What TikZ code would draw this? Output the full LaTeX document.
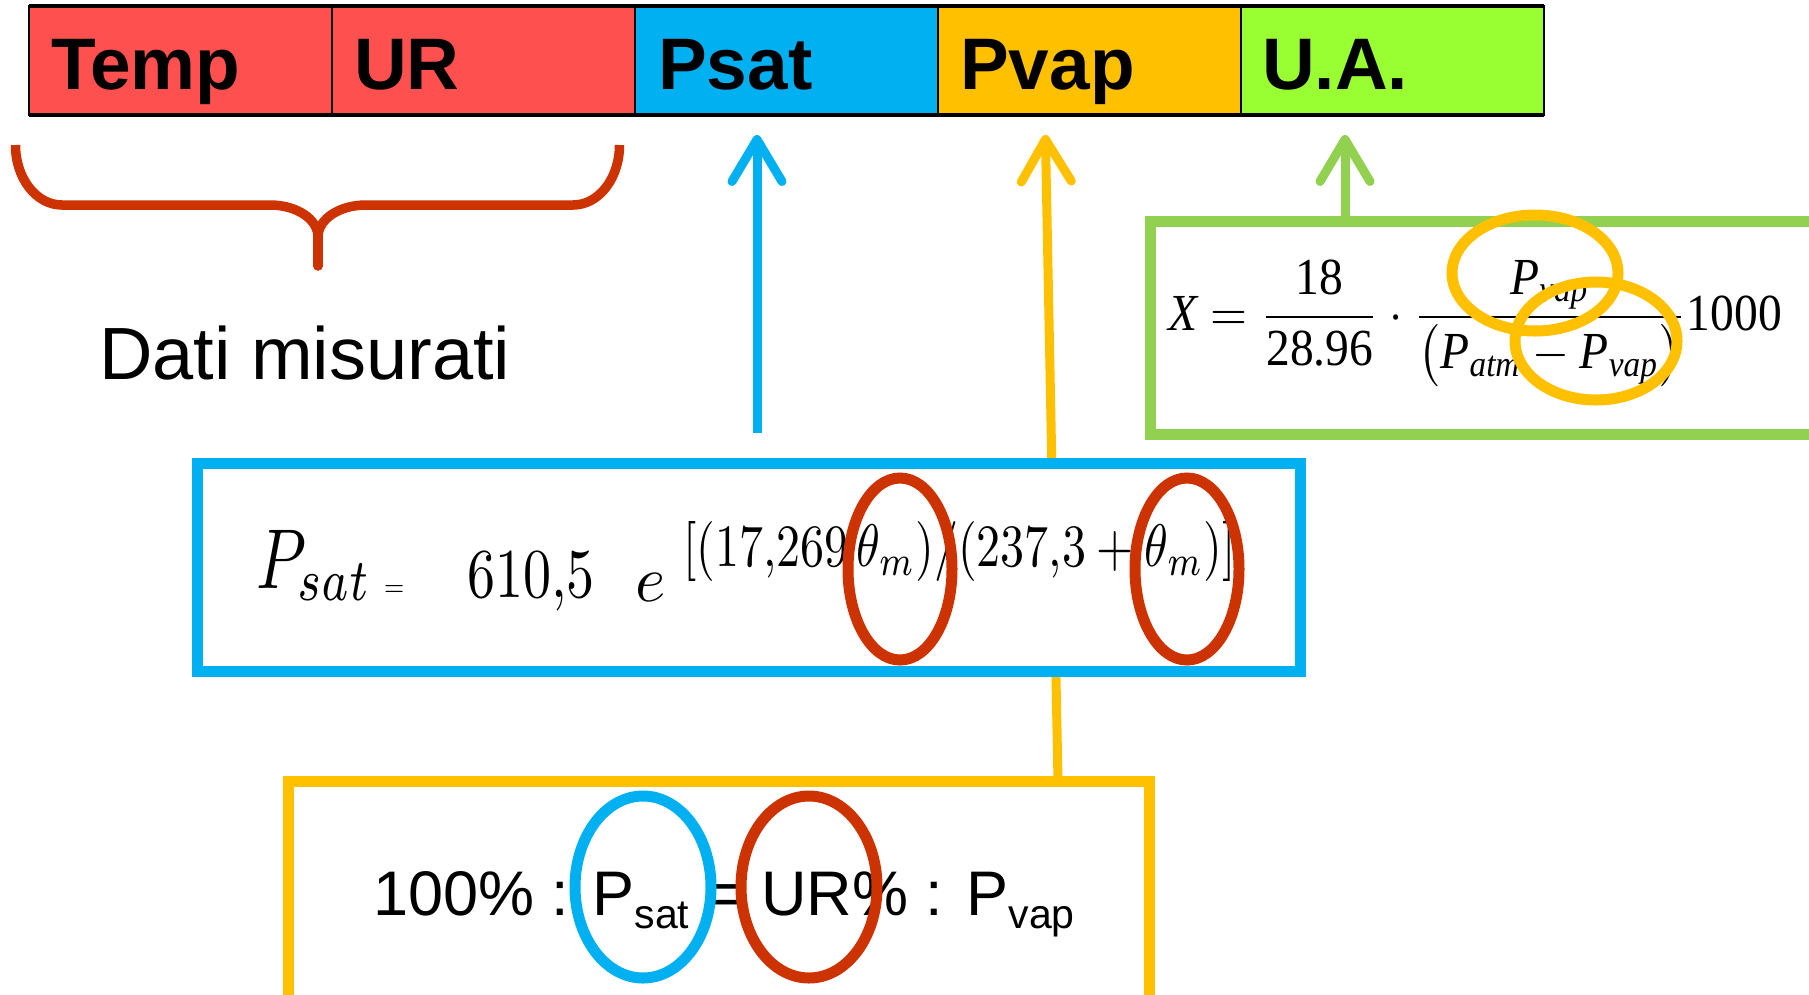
\documentclass[tikz,border=0pt]{standalone}
\usepackage{fontspec}
\usepackage{amsmath}
\usepackage{graphicx}
\setmainfont{Liberation Sans}
\newfontfamily\tms{Liberation Serif}
\usetikzlibrary{arrows.meta}
\definecolor{cred}{HTML}{FF5050}
\definecolor{cblue}{HTML}{00B0F0}
\definecolor{corange}{HTML}{FFC000}
\definecolor{clime}{HTML}{99FF33}
\definecolor{cbrick}{HTML}{CC3300}
\definecolor{cgreen}{HTML}{92D050}
\begin{document}
\begin{tikzpicture}[x=1pt,y=1pt,
  cell/.style={draw=black, line width=2pt, minimum width=303pt, minimum height=109pt, anchor=north west, inner sep=0pt, outer sep=0pt},
  celltext/.style={font=\fontsize{73}{80}\selectfont\bfseries, anchor=base west, inner sep=0pt},
  txt/.style={anchor=base west, inner sep=0pt},
  box/.style={line width=11pt, fill=white, inner sep=0pt, outer sep=0pt, anchor=north west},
  ring/.style={line width=11pt},
  brace/.style={draw=cbrick, line width=9.5pt},
  arw/.style={line width=9pt, -{Straight Barb[length=42pt,width=50pt,round]}},
]
\useasboundingbox (0,0) rectangle (1809,-994);
\clip (0,0) rectangle (1809,-994);

% top bar
\node[cell, fill=cred] (ctemp) at (29,-6) {};
\node[cell, fill=cred] (cur) at (332,-6) {};
\node[cell, fill=cblue] (cpsat) at (635,-6) {};
\node[cell, fill=corange] (cpvap) at (938,-6) {};
\node[cell, fill=clime] (cua) at (1241,-6) {};
\draw[line width=3.5pt] (ctemp.north west) -- (cua.north east);
\draw[line width=3.5pt] (ctemp.south west) -- (cua.south east);
\node[celltext] (ttemp) at (51,-89) {Temp};
\node[celltext] (tur) at (354,-89) {UR};
\node[celltext] (tpsat) at (658,-89) {Psat};
\node[celltext] (tpvap) at (960,-89) {Pvap};
\node[celltext] (tua) at (1262,-89) {U.A.};

% brace
\draw[brace] (15.5,-145) .. controls (15.5,-178) and (36,-205) .. (62,-205) -- (270,-205) .. controls (296.5,-205) and (318,-219) .. (318,-237);
\draw[brace] (619.5,-145) .. controls (619.5,-178) and (599,-205) .. (573,-205) -- (366,-205) .. controls (339.5,-205) and (318,-219) .. (318,-237);
\draw[brace, line cap=round] (318,-237) -- (318,-266);
\node[txt, font=\fontsize{74}{80}\selectfont] (dati) at (99,-379) {Dati misurati};

% yellow box and its connector (behind the blue box)
\node[box, draw=corange, minimum width=861pt, minimum height=259pt] (ybox) at (288,-781) {};
\coordinate (yA) at (1058,-781);
\coordinate (yB) at (1045,-115);
\draw[arw, draw=corange, shorten >=20pt] (yA) -- (yB);

% blue box
\node[box, draw=cblue, minimum width=1103pt, minimum height=208pt] (bbox) at (197,-463) {};
\coordinate (bA) at (757,-433);
\draw[arw, draw=cblue, shorten >=20pt] (bA) -- (bA |- cpsat.south);

% green box
\node[box, draw=cgreen, minimum width=850pt, minimum height=213pt] (gbox) at (1150,-221) {};
\coordinate (gA) at (1345,-221);
\draw[arw, draw=cgreen, shorten >=20pt] (gA) -- (gA |- cua.south);

% handwritten-like formula
\node[txt] (hwP) at (256,-588) {\scalebox{6.4}[8.5]{$P_{sat}$}};
\node[txt] (hweq) at (384,-596) {\scalebox{2.6}[3]{$=$}};
\node[txt] (hwn) at (467,-597) {\scalebox{5.6}[7]{$610{,}5$}};
\node[txt] (hwe) at (635,-601) {\scalebox{6.5}{$e$}};
\node[txt] (hwx) at (683,-566) {\scalebox{4.8}[6]{$[(17{,}269\,\theta_m)/(237{,}3+\theta_m)]$}};

% X formula
\node[txt] (xf) at (1168,-330) {\tms\scalebox{4.75}[5.2]{$\textit{X}=\dfrac{\text{18}}{\text{28.96}}\cdot\dfrac{\textit{P}_{\textit{vap}}}{\bigl(\textit{P}_{\textit{atm}}-\textit{P}_{\textit{vap}}\bigr)}\text{1000}$}};

% proportion
\node[txt, font=\fontsize{63}{70}\selectfont] (prop) at (373,-915) {100\% : P\raisebox{-13pt}{\fontsize{41}{41}\selectfont sat} = UR\% : P\raisebox{-13pt}{\fontsize{41}{41}\selectfont vap}};

% highlight rings
\draw[ring, draw=cbrick] (900,-569) ellipse [x radius=52, y radius=91];
\draw[ring, draw=cbrick] (1187,-569) ellipse [x radius=52, y radius=91];
\draw[ring, draw=corange] (1535,-273) ellipse [x radius=83, y radius=58];
\draw[ring, draw=corange] (1596,-341) ellipse [x radius=81, y radius=59];
\draw[ring, draw=cblue] (643,-887) ellipse [x radius=68, y radius=91];
\draw[ring, draw=cbrick] (809,-887) ellipse [x radius=68, y radius=91];
\end{tikzpicture}
\end{document}
